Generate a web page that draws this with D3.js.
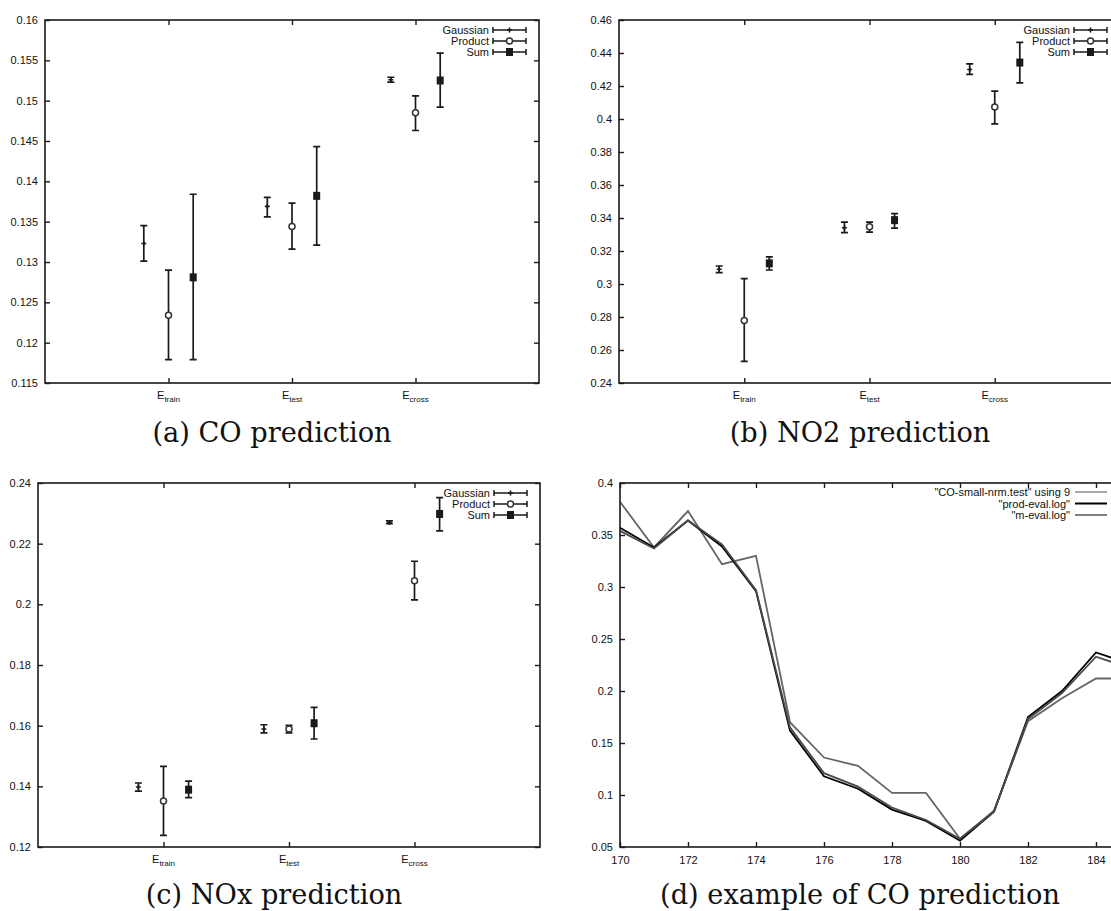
<!DOCTYPE html>
<html><head><meta charset="utf-8">
<script src="https://cdn.jsdelivr.net/npm/d3@7"></script>
<style>body{margin:0;background:#fff}svg{display:block}</style>
</head><body>
<svg id="c" width="1111" height="911"></svg>
<script>
// ---------- data ----------
const categories = ["train", "test", "cross"];
const seriesNames = ["Gaussian", "Product", "Sum"];
// each entry: [value, lower, upper]
const coGaussian = [[0.1323,0.1301,0.1345],[0.1369,0.1356,0.1380],[0.1526,0.1523,0.1529]];
const coProduct  = [[0.1234,0.1179,0.1290],[0.1344,0.1316,0.1373],[0.1485,0.1463,0.1506]];
const coSum      = [[0.1281,0.1179,0.1384],[0.1382,0.1321,0.1443],[0.1525,0.1492,0.1559]];
const no2Gaussian = [[0.3089,0.3069,0.3109],[0.3341,0.3311,0.3375],[0.4300,0.4270,0.4334]];
const no2Product  = [[0.2779,0.2531,0.3033],[0.3347,0.3315,0.3375],[0.4072,0.3971,0.4169]];
const no2Sum      = [[0.3125,0.3085,0.3164],[0.3387,0.3339,0.3427],[0.4342,0.4219,0.4465]];
const noxGaussian = [[0.1398,0.1384,0.1411],[0.1589,0.1576,0.1603],[0.2270,0.2266,0.2275]];
const noxProduct  = [[0.1352,0.1238,0.1466],[0.1589,0.1576,0.1601],[0.2078,0.2015,0.2142]];
const noxSum      = [[0.1389,0.1363,0.1417],[0.1608,0.1556,0.1660],[0.2298,0.2242,0.2352]];
const coTicks  = [0.115,0.12,0.125,0.13,0.135,0.14,0.145,0.15,0.155,0.16];
const no2Ticks = [0.24,0.26,0.28,0.3,0.32,0.34,0.36,0.38,0.4,0.42,0.44,0.46];
const noxTicks = [0.12,0.14,0.16,0.18,0.2,0.22,0.24];

const timeSteps = [170,171,172,173,174,175,176,177,178,179,180,181,182,183,184,185];
const coTest   = [0.382,0.338,0.373,0.322,0.330,0.170,0.136,0.128,0.102,0.102,0.058,0.085,0.171,0.193,0.212,0.212];
const prodEval = [0.357,0.338,0.364,0.339,0.296,0.162,0.118,0.106,0.086,0.075,0.056,0.084,0.175,0.200,0.237,0.226];
const mEval    = [0.354,0.337,0.364,0.341,0.297,0.165,0.121,0.108,0.088,0.076,0.058,0.084,0.173,0.198,0.233,0.222];
const lineNames = ['"CO-small-nrm.test" using 9', '"prod-eval.log"', '"m-eval.log"'];
const dYTicks = [0.05,0.1,0.15,0.2,0.25,0.3,0.35,0.4];
const dXTicks = [170,172,174,176,178,180,182,184];

const captions = ["(a) CO prediction","(b) NO2 prediction","(c) NOx prediction","(d) example of CO prediction"];

// ---------- drawing ----------
const svg = d3.select("#c");
const INK = "#1a1a1a";
const fmt = v => String(+v.toFixed(4));
const SANS = "Liberation Sans, Arial, sans-serif";

function frameAndAxes(g, x, y, yTicks, xTickVals, xFmt) {
  const [l, r] = x.range(), [b, t] = y.range();
  const left = d3.axisLeft(y).tickValues(yTicks).tickSize(-5).tickPadding(7).tickFormat(fmt);
  const right = d3.axisRight(y).tickValues(yTicks).tickSize(-5).tickFormat("");
  const bottom = d3.axisBottom(x).tickValues(xTickVals).tickSize(-5).tickPadding(9).tickFormat(xFmt || "");
  const top = d3.axisTop(x).tickValues(xTickVals).tickSize(-5).tickFormat("");
  const ax = [[left, `translate(${l},0)`],[right, `translate(${r},0)`],[bottom, `translate(0,${b})`],[top, `translate(0,${t})`]];
  ax.forEach(([a, tr]) => {
    const s = g.append("g").attr("transform", tr).call(a);
    s.select(".domain").remove();
    s.selectAll("line").attr("stroke", INK).attr("stroke-width", 1.4);
    s.selectAll("text").attr("font-family", SANS).attr("font-size", 11).attr("fill", "#111");
  });
  g.append("rect").attr("x", l).attr("y", t).attr("width", r - l).attr("height", b - t)
    .attr("fill", "none").attr("stroke", INK).attr("stroke-width", 1.6);
}

function marker(g, type, cx, cy) {
  if (type === 0) {
    g.append("path").attr("d", `M${cx-2.5},${cy}H${cx+2.5}M${cx},${cy-2.5}V${cy+2.5}`)
      .attr("stroke", INK).attr("stroke-width", 1.6);
  } else if (type === 1) {
    g.append("circle").attr("cx", cx).attr("cy", cy).attr("r", 3)
      .attr("fill", "#fff").attr("stroke", "#333").attr("stroke-width", 1.5);
  } else {
    g.append("rect").attr("x", cx - 3.5).attr("y", cy - 4).attr("width", 7).attr("height", 8).attr("fill", INK);
  }
}

function errPanel(box, yDom, yTicks, series) {
  const g = svg.append("g");
  const x = d3.scaleLinear().domain([0, 4]).range([box.l, box.r]);
  const y = d3.scaleLinear().domain(yDom).range([box.b, box.t]);
  frameAndAxes(g, x, y, yTicks, [1, 2, 3]);
  // category labels E_sub
  categories.forEach((c, i) => {
    const t = g.append("text").attr("x", x(i + 1)).attr("y", box.b + 16)
      .attr("text-anchor", "middle").attr("font-family", SANS).attr("font-size", 11).attr("fill", "#111");
    t.append("tspan").text("E");
    t.append("tspan").attr("dy", 3).attr("font-size", 8).text(c);
  });
  const offs = [-0.2, 0, 0.2];
  series.forEach((s, k) => {
    s.forEach((d, i) => {
      const cx = x(i + 1 + offs[k]);
      g.append("path").attr("d", `M${cx},${y(d[1])}V${y(d[2])}M${cx-3.5},${y(d[1])}H${cx+3.5}M${cx-3.5},${y(d[2])}H${cx+3.5}`)
        .attr("stroke", INK).attr("stroke-width", 1.7).attr("fill", "none");
      marker(g, k, cx, y(d[0]));
    });
  });
  // legend
  seriesNames.forEach((n, k) => {
    const yy = box.t + 10 + k * 11;
    g.append("text").attr("x", box.r - 50).attr("y", yy + 4).attr("text-anchor", "end")
      .attr("font-family", SANS).attr("font-size", 11).attr("fill", "#111").text(n);
    const x1 = box.r - 46, x2 = box.r - 13;
    g.append("path").attr("d", `M${x1},${yy}H${x2}M${x1},${yy-3}V${yy+3}M${x2},${yy-3}V${yy+3}`)
      .attr("stroke", INK).attr("stroke-width", 1.5);
    marker(g, k, (x1 + x2) / 2, yy);
  });
}

errPanel({l: 45, r: 539, t: 20, b: 383}, [0.115, 0.16], coTicks, [coGaussian, coProduct, coSum]);
errPanel({l: 619, r: 1120, t: 20, b: 383}, [0.24, 0.46], no2Ticks, [no2Gaussian, no2Product, no2Sum]);
errPanel({l: 38, r: 540, t: 483, b: 847}, [0.12, 0.24], noxTicks, [noxGaussian, noxProduct, noxSum]);

// panel d
(function () {
  const box = {l: 620, r: 1130, t: 483, b: 847};
  const g = svg.append("g");
  const x = d3.scaleLinear().domain([170, 185]).range([box.l, box.r]);
  const y = d3.scaleLinear().domain([0.05, 0.4]).range([box.b, box.t]);
  const cols = ["#666666", "#000000", "#4a4a4a"];
  const data = [coTest, prodEval, mEval];
  const line = d3.line().x((d, i) => x(timeSteps[i])).y(d => y(d));
  data.forEach((s, k) => {
    g.append("path").attr("d", line(s)).attr("fill", "none").attr("stroke", cols[k]).attr("stroke-width", 1.8);
  });
  frameAndAxes(g, x, y, dYTicks, dXTicks, d => String(d));
  const lcols = ["#aaaaaa", "#000000", "#808080"];
  lineNames.forEach((n, k) => {
    const yy = box.t + 9 + k * 11.5;
    g.append("text").attr("x", 1070).attr("y", yy + 4).attr("text-anchor", "end")
      .attr("font-family", SANS).attr("font-size", 11).attr("fill", "#111").text(n);
    g.append("line").attr("x1", 1075).attr("x2", 1107).attr("y1", yy).attr("y2", yy)
      .attr("stroke", lcols[k]).attr("stroke-width", 2);
  });
})();

// captions
const capPos = [[272, 442], [860, 442], [274, 904], [860, 904]];
const probe = svg.append("text").attr("font-family", "DejaVu Serif").attr("font-size", 20).text(captions[3]);
const w20 = probe.node().getComputedTextLength();
probe.remove();
const capSize = Math.min(30, 20 * 400 / w20);
captions.forEach((c, i) => {
  svg.append("text").attr("x", capPos[i][0]).attr("y", capPos[i][1]).attr("text-anchor", "middle")
    .attr("font-family", "DejaVu Serif").attr("font-size", capSize).attr("fill", "#111").text(c);
});
</script>
</body></html>
